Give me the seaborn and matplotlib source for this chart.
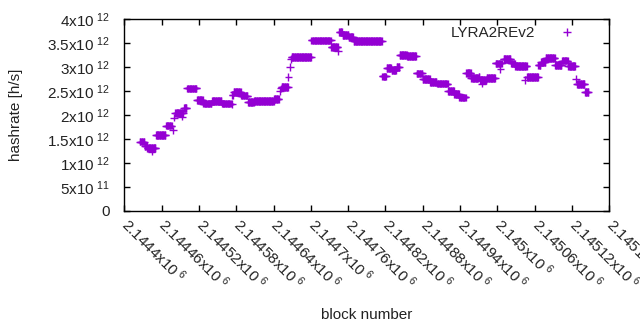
import numpy as np
import pandas as pd
import matplotlib
matplotlib.use("Agg")
import matplotlib.pyplot as plt
import matplotlib.transforms as mtransforms
import seaborn as sns

# ---- data ----
BASE_BLOCK = 2144400
# runs of consecutive blocks sharing (about) the same hashrate: start/end offsets from BASE_BLOCK
run_start = [25, 33, 37, 44, 51, 67, 78, 80, 82, 93, 96, 101, 117, 127, 141, 157, 173, 174, 176, 188,
             199, 209, 241, 250, 252, 253, 264, 266, 268, 269, 301, 333, 344, 346, 351, 361, 369, 415,
             422, 430, 438, 443, 455, 470, 480, 492, 503, 521, 531, 539, 550, 558, 570, 572, 575, 583,
             597, 605, 610, 622, 629, 644, 648, 666, 670, 678, 693, 704, 714, 726, 728, 741]
run_end = [32, 36, 50, 44, 66, 76, 78, 80, 94, 93, 100, 116, 126, 140, 156, 171, 173, 175, 187, 198,
           208, 240, 248, 250, 252, 263, 264, 266, 268, 300, 332, 343, 344, 350, 360, 368, 414, 421,
           429, 437, 442, 454, 469, 479, 491, 502, 520, 530, 538, 549, 557, 569, 571, 582, 575, 596,
           607, 605, 621, 628, 647, 644, 665, 669, 677, 692, 703, 713, 725, 726, 740, 746]
run_value = [1.45, 1.36, 1.31, 1.24, 1.59, 1.78, 1.68, 1.95, 2.05, 1.97, 2.15, 2.56, 2.31, 2.24, 2.30,
             2.24, 2.23, 2.42, 2.48, 2.41, 2.27, 2.30, 2.34, 2.51, 2.56, 2.59, 2.80, 3.00, 3.17, 3.21,
             3.56, 3.42, 3.33, 3.74, 3.67, 3.63, 3.55, 2.81, 2.98, 2.94, 3.00, 3.25, 3.23, 2.87, 2.75,
             2.69, 2.66, 2.50, 2.44, 2.37, 2.88, 2.77, 2.79, 2.73, 2.66, 2.78, 3.08, 2.96, 3.17, 3.08,
             3.03, 2.73, 2.79, 3.04, 3.11, 3.19, 3.05, 3.14, 3.03, 2.75, 2.65, 2.48]  # x 1e12 h/s

x_tick_values = [2144400, 2144460, 2144520, 2144580, 2144640, 2144700, 2144760,
                 2144820, 2144880, 2144940, 2145000, 2145060, 2145120, 2145180]
x_tick_texts = ["2.1444", "2.14446", "2.14452", "2.14458", "2.14464", "2.1447", "2.14476",
                "2.14482", "2.14488", "2.14494", "2.145", "2.14506", "2.14512", "2.14518"]
y_tick_values = [0, 0.5e12, 1.0e12, 1.5e12, 2.0e12, 2.5e12, 3.0e12, 3.5e12, 4.0e12]
y_tick_mant = ["0", "5", "1", "1.5", "2", "2.5", "3", "3.5", "4"]
y_tick_exp = [None, "11", "12", "12", "12", "12", "12", "12", "12"]

series_name = "LYRA2REv2"

# ---- decode runs into one point per block ----
blocks = np.concatenate([np.arange(s, e + 1) for s, e in zip(run_start, run_end)]) + BASE_BLOCK
values = np.concatenate([np.full(e - s + 1, v * 1e12) for s, e, v in zip(run_start, run_end, run_value)])
df = pd.DataFrame({"block": blocks, "hashrate": values, "series": series_name})

# ---- style ----
sns.set_style("white")
plt.rcParams["font.family"] = ["Liberation Sans", "DejaVu Sans"]
plt.rcParams["mathtext.fontset"] = "custom"
plt.rcParams["mathtext.rm"] = "Liberation Sans"
plt.rcParams["mathtext.it"] = "Liberation Sans:italic"
plt.rcParams["mathtext.bf"] = "Liberation Sans:bold"

fig = plt.figure(figsize=(6.4, 3.3), dpi=100)
ax = fig.add_axes([124.3 / 640, 1 - 211 / 330, (609.3 - 124.3) / 640, (211 - 19.3) / 330])

sns.scatterplot(data=df, x="block", y="hashrate", hue="series", palette=["#9400d3"],
                marker="+", s=30, linewidth=1.0, ax=ax, legend=True)

ax.set_xlim(2144400, 2145180)
ax.set_ylim(0, 4e12)

for sp in ax.spines.values():
    sp.set_color("black")
    sp.set_linewidth(1.0)

ax.set_xticks(x_tick_values)
ax.set_xticklabels([t + r"x10$\;^{6}$" for t in x_tick_texts], rotation=-45,
                   ha="left", va="baseline", rotation_mode="anchor", fontsize=11, color="#222222")
ax.set_yticks(y_tick_values)
ax.set_yticklabels([m if e is None else m + r"x10$\;^{" + e + "}$" for m, e in zip(y_tick_mant, y_tick_exp)],
                   fontsize=11, color="#222222")
ax.tick_params(axis="both", direction="in", length=4, width=1, color="black",
               top=True, right=True, bottom=True, left=True)
ax.tick_params(axis="y", pad=10.5)
ax.tick_params(axis="x", pad=11)

shift = mtransforms.ScaledTranslation(-4 / 100, 0, fig.dpi_scale_trans)
for lbl in ax.get_xticklabels():
    lbl.set_transform(lbl.get_transform() + shift)

ax.set_xlabel("block number", fontsize=11, color="#222222")
ax.set_ylabel("hashrate [h/s]", fontsize=11, color="#222222")
ax.xaxis.set_label_coords(0.5, (211 - 308) / 191.7)
ax.yaxis.set_label_coords((23 - 124.3) / 485, 0.5)

leg = ax.legend(loc="upper right", frameon=False, markerfirst=False, fontsize=11,
                handlelength=2, handletextpad=1.1, borderaxespad=0.0,
                bbox_to_anchor=(1 - 20.8 / 485, 1 - 0.8 / 191.7))

fig.savefig("out.png", dpi=100)
